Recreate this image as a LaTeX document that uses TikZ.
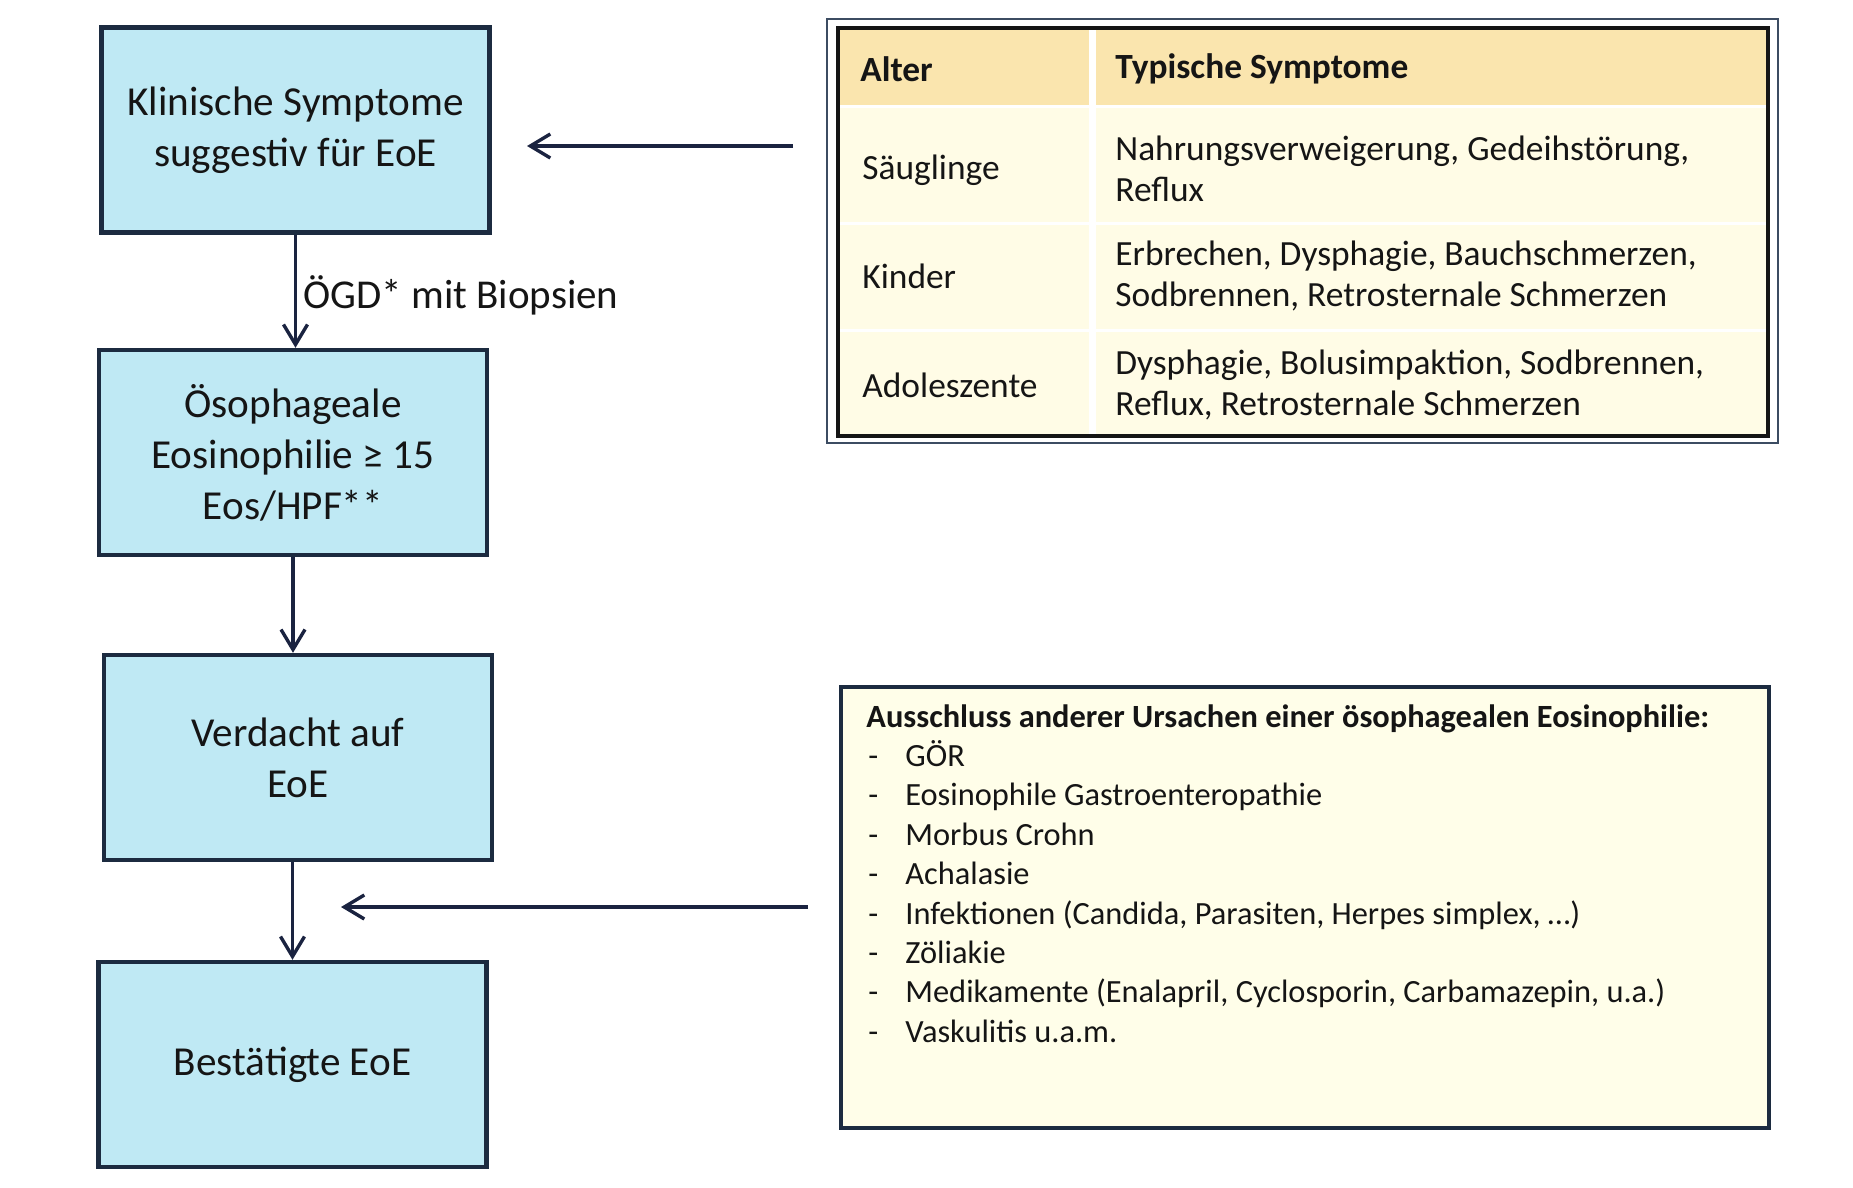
\documentclass[tikz,border=0pt]{standalone}
\usepackage{fontspec}
\setmainfont{Carlito}
\usetikzlibrary{arrows.meta}
\definecolor{boxfill}{HTML}{BFE9F4}
\definecolor{boxline}{HTML}{1C2B40}
\definecolor{arrowc}{HTML}{1A2340}
\definecolor{hdrfill}{HTML}{FAE5AE}
\definecolor{cellfill}{HTML}{FFFCE6}
\definecolor{notefill}{HTML}{FFFEE9}
\definecolor{txt}{HTML}{151515}
\definecolor{outerline}{HTML}{3C4C62}
\begin{document}
\begin{tikzpicture}[x=0.5pt,y=-0.5pt,
  flowbox/.style={draw=boxline, line width=2.2pt, fill=boxfill, minimum width=194pt,
    minimum height=102.5pt, align=center, inner sep=0pt, text=txt,
    font=\fontsize{20.6}{25.5}\selectfont},
  arr/.style={draw=arrowc, line width=1.7pt,
    -{Straight Barb[length=10pt,width=12pt,line width=1.7pt]}},
  tabtxt/.style={anchor=west, inner sep=0pt, align=left, text=txt,
    font=\fontsize{17.7}{20.5}\selectfont},
  tabhdr/.style={tabtxt, font=\fontsize{17.7}{20.5}\selectfont\bfseries},
  listtxt/.style={anchor=west, inner sep=0pt, text=txt, text height=11.5pt, text depth=3.5pt,
    font=\fontsize{16.2}{19.7}\selectfont},
  lbl/.style={anchor=west, inner sep=0pt, text=txt,
    font=\fontsize{20.5}{25}\selectfont}]
\useasboundingbox[fill=white] (0,0) rectangle (1853,1188);

% flow boxes
\node[flowbox] (b1) at (295.5,130) {Klinische Symptome\\suggestiv für EoE};
\node[flowbox] (b2) at (293,452.5) {Ösophageale\\Eosinophilie ≥ 15\\Eos/HPF**};
\node[flowbox] (b3) at (298,757.5) {Verdacht auf\\EoE};
\node[flowbox] (b4) at (292.5,1064.5) {Bestätigte EoE};

% vertical arrows
\draw[arr] (b1.south) -- (b1.south |- b2.north);
\draw[arr] (b2.south) -- (b2.south |- b3.north);
\draw[arr] (b4.north |- b3.south) -- (b4.north);
\node[lbl] (ogd) at (303,295) {ÖGD* mit Biopsien};

% table
\draw[outerline, line width=1.1pt, fill=white] (827,19) rectangle (1778,443);
\draw[txt, line width=1.8pt, fill=white] (838,28) rectangle (1768,436);
\fill[hdrfill] (840,30) rectangle (1089,105);
\fill[hdrfill] (1096,30) rectangle (1766,105);
\fill[cellfill] (840,108) rectangle (1089,222);
\fill[cellfill] (1096,108) rectangle (1766,222);
\fill[cellfill] (840,225) rectangle (1089,329);
\fill[cellfill] (1096,225) rectangle (1766,329);
\fill[cellfill] (840,332) rectangle (1089,434);
\fill[cellfill] (1096,332) rectangle (1766,434);
\node[tabhdr] (h1) at (860,69) {Alter};
\node[tabhdr] (h2) at (1115,69) {Typische Symptome};
\node[tabtxt] (r1a) at (862,170) {Säuglinge};
\node[tabtxt] (r1b) at (1115,168.5) {Nahrungsverweigerung, Gedeihstörung,\\Reflux};
\node[tabtxt] (r2a) at (862,276.5) {Kinder};
\node[tabtxt] (r2b) at (1115,275.5) {Erbrechen, Dysphagie, Bauchschmerzen,\\Sodbrennen, Retrosternale Schmerzen};
\node[tabtxt] (r3a) at (862,385) {Adoleszente};
\node[tabtxt] (r3b) at (1115,384.5) {Dysphagie, Bolusimpaktion, Sodbrennen,\\Reflux, Retrosternale Schmerzen};

% exclusion box
\draw[boxline, line width=2.2pt, fill=notefill] (841,687) rectangle (1769,1128);
\node[listtxt, font=\fontsize{16.2}{19.7}\selectfont\bfseries] (lh) at (866,719)
  {Ausschluss anderer Ursachen einer ösophagealen Eosinophilie:};
\foreach \t [count=\i] in {GÖR, Eosinophile Gastroenteropathie, Morbus Crohn, Achalasie,
  {Infektionen (Candida, Parasiten, Herpes simplex, …)}, Zöliakie,
  {Medikamente (Enalapril, Cyclosporin, Carbamazepin, u.a.)}, Vaskulitis u.a.m.}{
  \node[listtxt] (d\i) at (868,{719+39.4*\i}) {-};
  \node[listtxt] (l\i) at (905,{719+39.4*\i}) {\t};
}

% horizontal arrows
\coordinate (a1s) at (793,146);
\coordinate (a1e) at (527,146);
\draw[arr] (a1s) -- (a1e);
\coordinate (a2s) at (808,907);
\coordinate (a2e) at (341,907);
\draw[arr] (a2s) -- (a2e);
\end{tikzpicture}
\end{document}
